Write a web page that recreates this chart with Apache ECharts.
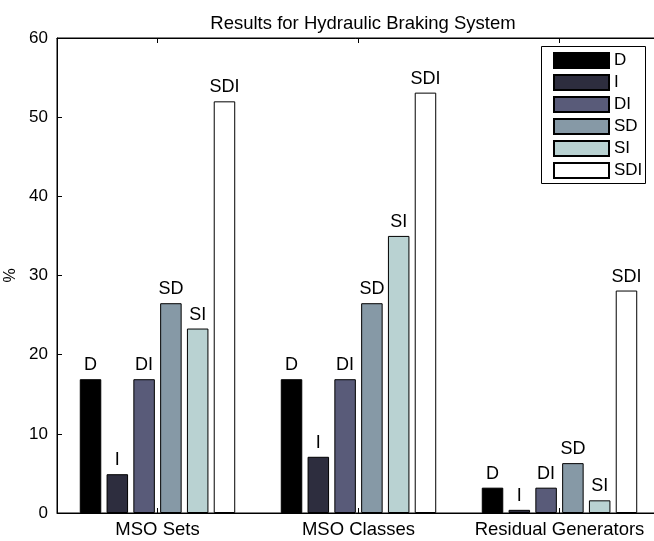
<!DOCTYPE html>
<html>
<head>
<meta charset="utf-8">
<script src="https://cdn.jsdelivr.net/npm/echarts@6/dist/echarts.min.js"></script>
<style>
  html, body { margin: 0; padding: 0; background: #fff; }
  #chart { width: 654px; height: 541px; }
</style>
</head>
<body>
<div id="chart"></div>
<script>
// Categories and percentage values per method
const categories = ['MSO Sets', 'MSO Classes', 'Residual Generators'];
const seriesNames = ['D', 'I', 'DI', 'SD', 'SI', 'SDI'];
const valuesD   = [16.9, 16.9, 3.2];
const valuesI   = [4.9, 7.1, 0.4];
const valuesDI  = [16.9, 16.9, 3.2];
const valuesSD  = [26.5, 26.5, 6.3];
const valuesSI  = [23.3, 35.0, 1.6];
const valuesSDI = [52.0, 53.1, 28.1];
const yTicks = [0, 10, 20, 30, 40, 50, 60];

const allValues = [valuesD, valuesI, valuesDI, valuesSD, valuesSI, valuesSDI];
// bone colormap, six steps
const colors = ['#000000', '#2d2d3e', '#595b79', '#8699a6', '#b9d2d2', '#ffffff'];
const FONT = '"Liberation Sans", Arial, Helvetica, sans-serif';

const chart = echarts.init(document.getElementById('chart'), null, { renderer: 'canvas' });

const series = seriesNames.map((name, i) => ({
  name: name,
  type: 'bar',
  xAxisIndex: 0,
  data: allValues[i],
  barWidth: 21.5,
  barGap: '24.6%',
  itemStyle: { color: colors[i], borderColor: '#000', borderWidth: 1 },
  label: {
    show: true,
    position: 'top',
    distance: 5,
    formatter: name,
    color: '#000',
    fontSize: 18,
    fontFamily: FONT
  },
  emphasis: { disabled: true },
  animation: false
}));

chart.setOption({
  animation: false,
  title: {
    text: 'Results for Hydraulic Braking System',
    left: 358,
    textAlign: 'center',
    top: 9,
    textStyle: { fontSize: 18.5, fontWeight: 'normal', color: '#000', fontFamily: FONT }
  },
  grid: {
    left: 57, top: 38, width: 603, height: 475,
    outerBoundsMode: 'none',
    containLabel: false,
    show: true, borderColor: '#000', borderWidth: 1, backgroundColor: 'transparent'
  },
  legend: {
    orient: 'vertical',
    left: 553,
    top: 52,
    padding: 0,
    itemWidth: 55,
    itemHeight: 15,
    itemGap: 5,
    icon: 'rect',
    data: seriesNames,
    textStyle: { fontSize: 17, color: '#000', fontFamily: FONT },
    selectedMode: false
  },
  graphic: [{
    type: 'rect',
    shape: { x: 541.5, y: 46.5, width: 104, height: 137 },
    style: { fill: 'none', stroke: '#000', lineWidth: 1 },
    z: 100
  }],
  xAxis: [{
    type: 'category',
    data: categories,
    position: 'bottom',
    axisLine: { show: true, lineStyle: { color: '#000', width: 1 } },
    axisTick: { show: true, inside: true, alignWithLabel: true, length: 5, lineStyle: { color: '#000' } },
    axisLabel: { interval: 0, hideOverlap: false, fontSize: 18.5, color: '#000', fontFamily: FONT, margin: 7 }
  }, {
    type: 'category',
    data: categories,
    position: 'top',
    axisLine: { show: true, lineStyle: { color: '#000', width: 1 } },
    axisTick: { show: true, inside: true, alignWithLabel: true, length: 5, lineStyle: { color: '#000' } },
    axisLabel: { show: false }
  }],
  yAxis: {
    type: 'value',
    min: yTicks[0],
    max: yTicks[yTicks.length - 1],
    interval: 10,
    name: '%',
    nameLocation: 'middle',
    nameGap: 36,
    nameRotate: 90,
    nameTextStyle: { fontSize: 16, color: '#000', fontFamily: FONT },
    axisLine: { show: true, lineStyle: { color: '#000', width: 1 } },
    axisTick: { show: true, inside: true, length: 5, lineStyle: { color: '#000' } },
    axisLabel: { fontSize: 17, color: '#000', fontFamily: FONT, margin: 9 },
    splitLine: { show: false }
  },
  series: series
});
</script>
</body>
</html>
